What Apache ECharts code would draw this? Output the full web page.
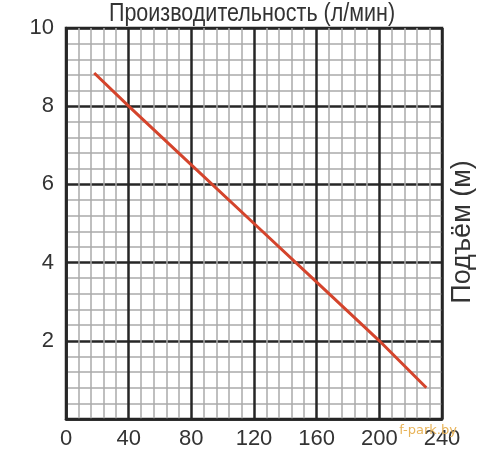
<!DOCTYPE html>
<html><head><meta charset="utf-8">
<script src="https://cdn.jsdelivr.net/npm/echarts@6/dist/echarts.min.js"></script>
<style>html,body{margin:0;padding:0;background:#fff}#c{width:500px;height:450px}</style>
</head><body><div id="c"></div>
<script>
const flowValues = [18, 40, 80, 120, 160, 200, 230];
const headValues = [8.85, 8.0, 6.5, 5.0, 3.5, 2.0, 0.8];
const xTitle = 'Производительность (л/мин)';
const yTitle = 'Подъём (м)';
const watermark = 'f-park.by';

const FONT = '"Liberation Sans", Arial, sans-serif';
const chart = echarts.init(document.getElementById('c'), null, {renderer: 'canvas'});
chart.setOption({
  animation: false,
  backgroundColor: '#fff',
  grid: {left: 66, right: 58, top: 28, bottom: 30, show: true, borderColor: '#262626', borderWidth: 2.5},
  xAxis: {
    type: 'value', min: 0, max: 240, interval: 40,
    axisLine: {show: true, lineStyle: {color: '#262626', width: 2.5}},
    axisTick: {show: false},
    axisLabel: {color: '#333', fontFamily: FONT, fontSize: 22, margin: 9},
    splitLine: {show: true, lineStyle: {color: '#262626', width: 2.5}},
    minorTick: {show: false, splitNumber: 5},
    minorSplitLine: {show: true, lineStyle: {color: '#ababab', width: 1.5}}
  },
  yAxis: {
    type: 'value', min: 0, max: 10, interval: 2,
    axisLine: {show: true, lineStyle: {color: '#262626', width: 2.5}},
    axisTick: {show: false},
    axisLabel: {color: '#333', fontFamily: FONT, fontSize: 22, margin: 12,
      formatter: v => v === 0 ? '' : String(v)},
    splitLine: {show: true, lineStyle: {color: '#262626', width: 2.5}},
    minorTick: {show: false, splitNumber: 5},
    minorSplitLine: {show: true, lineStyle: {color: '#ababab', width: 1.5}}
  },
  series: [{
    type: 'line',
    data: flowValues.map((x, i) => [x, headValues[i]]),
    showSymbol: false, symbol: 'none',
    lineStyle: {color: '#d4442c', width: 3},
    z: 5
  }],
  graphic: [
    {type: 'text', x: 252, y: 14, scaleX: 0.86,
      style: {text: xTitle, font: '25px ' + FONT, fill: '#333', textAlign: 'center', textVerticalAlign: 'middle'}},
    {type: 'text', x: 463, y: 232, rotation: Math.PI / 2,
      style: {text: yTitle, font: '27px ' + FONT, fill: '#333', textAlign: 'center', textVerticalAlign: 'middle'}},
    {type: 'text', x: 428, y: 431, z: 10,
      style: {text: watermark, font: '13px "DejaVu Sans", sans-serif', fill: '#e8b45a', textAlign: 'center', textVerticalAlign: 'middle'}}
  ]
});
</script></body></html>
